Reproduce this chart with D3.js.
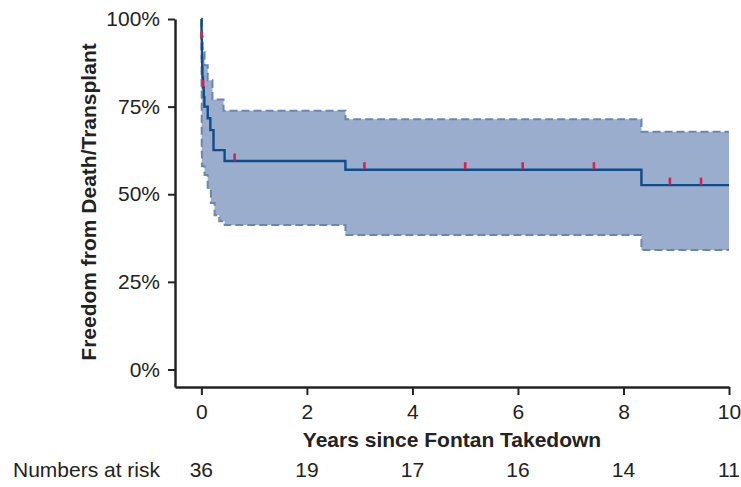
<!DOCTYPE html>
<html>
<head>
<meta charset="utf-8">
<script src="https://cdn.jsdelivr.net/npm/d3@7"></script>
<style>
  body { margin: 0; background: #fff; }
  svg text { font-family: "Liberation Sans", Arial, sans-serif; fill: #222; }
</style>
</head>
<body>
<div id="chart"></div>
<script>
// Kaplan-Meier estimate (years, % free from death/transplant)
const kmTime = [0, 0.002, 0.004, 0.008, 0.012, 0.016, 0.02, 0.03, 0.045, 0.057, 0.12, 0.17, 0.23, 0.44, 2.73, 8.34, 10];
const kmSurv = [100, 97.2, 94.4, 91.7, 88.9, 86.1, 83.3, 80.5, 77.7, 75.0, 71.7, 68.3, 62.6, 59.5, 57.0, 52.6, 52.6];

// Confidence band
const upperTime = [0, 0.01, 0.025, 0.06, 0.12, 0.21, 0.42, 2.73, 8.34, 10];
const upperVal = [100, 95, 90.5, 86.8, 82.5, 77, 73.8, 71.4, 67.8, 67.8];
const lowerTime = [0, 0.003, 0.006, 0.01, 0.06, 0.12, 0.18, 0.25, 0.34, 0.44, 2.73, 8.34, 10];
const lowerVal = [100, 80, 62, 58, 55.5, 51.5, 47.5, 44, 42.3, 41.2, 38.4, 34.1, 34.1];

// Censored observations
const censorTime = [0.005, 0.03, 0.63, 3.09, 5.0, 6.09, 7.44, 8.88, 9.47];

// Numbers at risk
const riskYears = [0, 2, 4, 6, 8, 10];
const riskCounts = [36, 19, 17, 16, 14, 11];

const yTicks = [0, 25, 50, 75, 100];

const width = 741;
const height = 487;
const fontSize = 21;

const svg = d3.select("#chart")
    .append("svg")
    .attr("width", width)
    .attr("height", height);

const x = d3.scaleLinear().domain([-0.5, 10]).range([175, 729]);
const y = d3.scaleLinear().domain([-5, 100]).range([387, 19]);

// step-function lookup
function stepValue(times, vals, t) {
    const i = d3.bisectRight(times, t) - 1;
    return vals[Math.max(0, i)];
}

// band: union of change times
const bandTimes = Array.from(new Set(upperTime.concat(lowerTime))).sort((a, b) => a - b);
const band = bandTimes.map(t => ({
    t: t,
    hi: stepValue(upperTime, upperVal, t),
    lo: stepValue(lowerTime, lowerVal, t)
}));

const area = d3.area()
    .curve(d3.curveStepAfter)
    .x(d => x(d.t))
    .y0(d => y(d.lo))
    .y1(d => y(d.hi));

svg.append("path")
    .datum(band)
    .attr("fill", "#9badcd")
    .attr("d", area);

const stepLine = d3.line().curve(d3.curveStepAfter);

svg.append("path")
    .attr("fill", "none")
    .attr("stroke", "#6a86b2")
    .attr("stroke-width", 2)
    .attr("stroke-dasharray", "8,4")
    .attr("d", stepLine(upperTime.map((t, i) => [x(t), y(upperVal[i])])));

svg.append("path")
    .attr("fill", "none")
    .attr("stroke", "#6a86b2")
    .attr("stroke-width", 2)
    .attr("stroke-dasharray", "8,4")
    .attr("d", stepLine(lowerTime.map((t, i) => [x(t), y(lowerVal[i])])));

// KM curve
svg.append("path")
    .attr("fill", "none")
    .attr("stroke", "#0f4c8a")
    .attr("stroke-width", 2.4)
    .attr("d", stepLine(kmTime.map((t, i) => [x(t), y(kmSurv[i])])));

// censor marks
svg.selectAll(".censor")
    .data(censorTime)
    .join("rect")
    .attr("class", "censor")
    .attr("x", d => x(d) - 1.3)
    .attr("y", d => y(stepValue(kmTime, kmSurv, d)) - 7.5)
    .attr("width", 2.6)
    .attr("height", 7)
    .attr("fill", "#d8214c");

// axes
const yAxis = svg.append("g")
    .attr("transform", "translate(175,0)")
    .call(d3.axisLeft(y).tickValues(yTicks).tickSize(7).tickSizeOuter(0).tickPadding(8).tickFormat(d => d + "%"));

const xAxis = svg.append("g")
    .attr("transform", "translate(0,387)")
    .call(d3.axisBottom(x).tickValues(riskYears).tickSize(8).tickSizeOuter(0).tickPadding(9));

[yAxis, xAxis].forEach(g => {
    g.select(".domain").attr("stroke", "#222").attr("stroke-width", 2.5);
    g.selectAll(".tick line").attr("stroke", "#222").attr("stroke-width", 2);
    g.selectAll(".tick text").attr("font-size", fontSize).attr("font-family", "Liberation Sans, Arial, sans-serif").attr("fill", "#222");
});

// axis titles
svg.append("text")
    .attr("x", 452)
    .attr("y", 447)
    .attr("text-anchor", "middle")
    .attr("font-size", fontSize)
    .attr("font-weight", "bold")
    .text("Years since Fontan Takedown");

svg.append("text")
    .attr("transform", "rotate(-90)")
    .attr("x", -202)
    .attr("y", 96)
    .attr("text-anchor", "middle")
    .attr("font-size", fontSize)
    .attr("font-weight", "bold")
    .text("Freedom from Death/Transplant");

// numbers at risk
svg.append("text")
    .attr("x", 160)
    .attr("y", 477)
    .attr("text-anchor", "end")
    .attr("font-size", fontSize)
    .text("Numbers at risk");

svg.selectAll(".risk")
    .data(riskCounts)
    .join("text")
    .attr("class", "risk")
    .attr("x", (d, i) => x(riskYears[i]))
    .attr("y", 477)
    .attr("text-anchor", "middle")
    .attr("font-size", fontSize)
    .text(d => d);
</script>
</body>
</html>
